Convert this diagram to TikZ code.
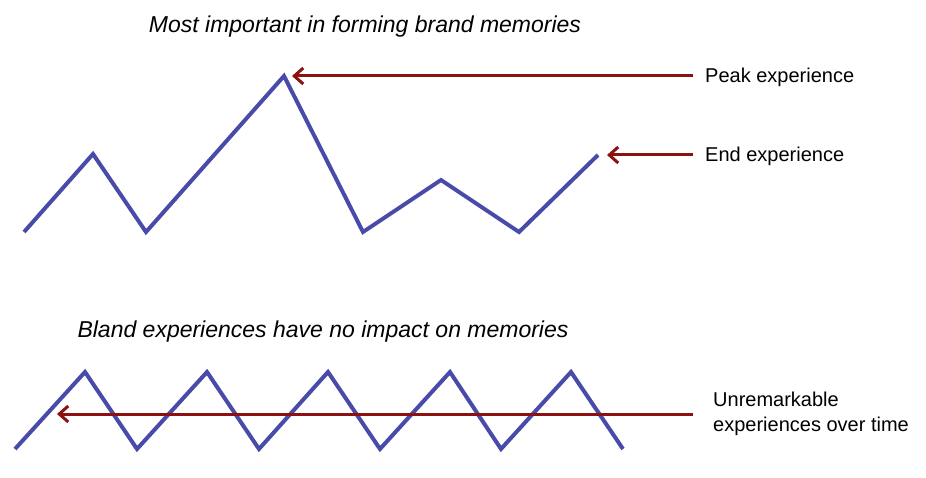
\documentclass[tikz,border=0pt]{standalone}
\usepackage{fontspec}
\setmainfont{Liberation Sans}
\usetikzlibrary{arrows.meta}
\definecolor{zigblue}{RGB}{72,76,168}
\definecolor{arrred}{RGB}{140,18,18}
\tikzset{
  zig/.style={draw=zigblue,line width=4pt,line join=miter},
  pointer/.style={draw=arrred,line width=3pt,-{Straight Barb[length=9pt,width=16pt,line width=3pt]}},
  lbl/.style={font=\fontsize{20}{25}\selectfont,inner sep=0pt,anchor=west,align=left},
  ttl/.style={font=\fontsize{23}{28}\selectfont\itshape,inner sep=0pt}
}
\begin{document}
\begin{tikzpicture}[x=1pt,y=-1pt]
\useasboundingbox (0,0) rectangle (926,478);
% titles
\node[ttl] (t1) at (365,27) {Most important in forming brand memories};
\node[ttl] (t2) at (323,332) {Bland experiences have no impact on memories};
% top zigzag
\coordinate (p1) at (24,232);
\coordinate (p2) at (93,154);
\coordinate (p3) at (146,232);
\coordinate (peak) at (284,76);
\coordinate (p5) at (363,232);
\coordinate (p6) at (441,180);
\coordinate (p7) at (519,232);
\coordinate (endp) at (598,155);
\draw[zig] (p1) -- (p2) -- (p3) -- (peak) -- (p5) -- (p6) -- (p7) -- (endp);
% bottom zigzag
\draw[zig] (15,449) -- (85,372) -- (137,449) -- (207,372) -- (259,449) -- (328,372)
  -- (380,449) -- (450,372) -- (501,449) -- (571,372) -- (623,449);
% labels
\node[lbl] (lpeak) at (705,77) {Peak experience};
\node[lbl] (lend) at (705,156) {End experience};
\node[lbl] (lunr) at (713,414) {Unremarkable\\experiences over time};
% arrow start/end coordinates
\coordinate (s1) at (693,76);
\coordinate (e1) at (292,76);
\coordinate (s2) at (693,155);
\coordinate (e2) at (607,155);
\coordinate (s3) at (693,414);
\coordinate (e3) at (57,414);
\draw[pointer] (s1) -- (e1);
\draw[pointer] (s2) -- (e2);
\draw[pointer] (s3) -- (e3);
\end{tikzpicture}
\end{document}
